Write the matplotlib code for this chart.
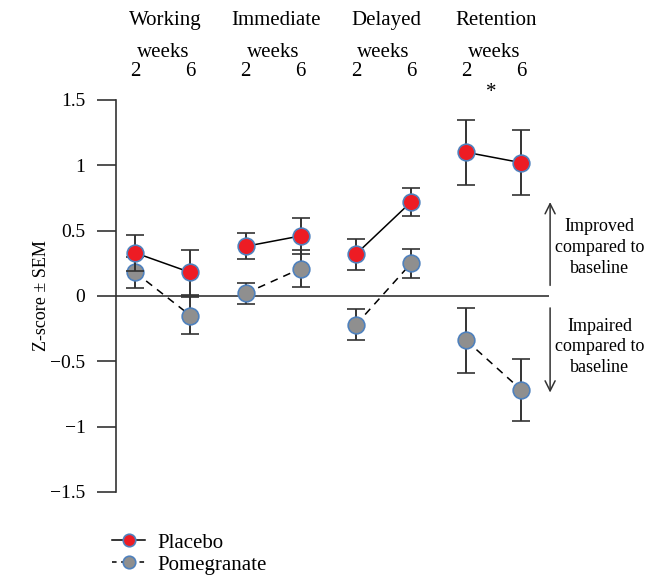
import matplotlib
matplotlib.use('Agg')
import matplotlib.pyplot as plt
from matplotlib.lines import Line2D

plt.rcParams['font.family'] = ['Liberation Serif', 'DejaVu Serif']

# data
groups = ['Working', 'Immediate', 'Delayed', 'Retention']
week_labels = ['2', '6']
placebo = [0.33, 0.18, 0.38, 0.46, 0.32, 0.72, 1.10, 1.02]
placebo_sem = [0.14, 0.17, 0.10, 0.14, 0.12, 0.11, 0.25, 0.25]
pomegranate = [0.18, -0.15, 0.02, 0.21, -0.22, 0.25, -0.34, -0.72]
pomegranate_sem = [0.12, 0.14, 0.08, 0.14, 0.12, 0.11, 0.25, 0.24]
y_ticks = [1.5, 1, 0.5, 0, -0.5, -1, -1.5]
y_tick_labels = ['1.5', '1', '0.5', '0', '\u22120.5', '\u22121', '\u22121.5']

RED = '#ED1C24'
GREY = '#8F8F8F'
EDGE = '#4F81BD'
INK = '#333333'
FS = 15

fig = plt.figure(figsize=(6.59, 5.75), dpi=100)
ax = fig.add_axes([116/659, 83/575, 433/659, 392/575])

for g in range(len(groups)):
    xs = [2*g, 2*g + 1]
    sl = slice(2*g, 2*g + 2)
    ax.errorbar(xs, pomegranate[sl], yerr=pomegranate_sem[sl], color='black', ls=(0, (5, 4)),
                lw=1.1, ecolor=INK, elinewidth=1.4, capsize=6.5, capthick=1.4,
                marker='o', ms=12, mfc=GREY, mec=EDGE, mew=1.2, zorder=3)
    ax.errorbar(xs, placebo[sl], yerr=placebo_sem[sl], color='black', ls='-',
                lw=1.1, ecolor=INK, elinewidth=1.4, capsize=6.5, capthick=1.4,
                marker='o', ms=12, mfc=RED, mec=EDGE, mew=1.2, zorder=4)

    mid = 2*g + 0.5
    ax.text(mid + 0.05, 2.11, groups[g], ha='center', va='center', fontsize=FS, clip_on=False)
    ax.text(mid, 1.86, 'weeks', ha='center', va='center', fontsize=FS, clip_on=False)
    for k in range(2):
        ax.text(xs[k], 1.715, week_labels[k], ha='center', va='center', fontsize=FS, clip_on=False)

ax.text(6.45, 1.56, '*', ha='center', va='center', fontsize=FS, clip_on=False)

ax.axhline(0, color=INK, lw=1.2, zorder=1)

ax.set_xlim(-0.35, 7.5)
ax.set_ylim(-1.5, 1.5)
ax.set_xticks([])
ax.set_yticks(y_ticks)
ax.set_yticklabels(y_tick_labels, fontsize=14)
ax.tick_params(axis='y', length=14, width=1.2, color=INK, pad=8)
for s in ['top', 'right', 'bottom']:
    ax.spines[s].set_visible(False)
ax.spines['left'].set_color(INK)
ax.spines['left'].set_linewidth(1.2)

# improved / impaired arrows
ax.annotate('', xy=(7.52, 0.74), xytext=(7.52, 0.06), annotation_clip=False,
            arrowprops=dict(arrowstyle='->', color=INK, lw=1.1, mutation_scale=18))
ax.annotate('', xy=(7.52, -0.76), xytext=(7.52, -0.07), annotation_clip=False,
            arrowprops=dict(arrowstyle='->', color=INK, lw=1.1, mutation_scale=18))
ax.text(8.42, 0.37, 'Improved\ncompared to\nbaseline', ha='center', va='center',
        fontsize=13, linespacing=1.3, clip_on=False)
ax.text(8.42, -0.39, 'Impaired\ncompared to\nbaseline', ha='center', va='center',
        fontsize=13, linespacing=1.3, clip_on=False)

fig.text(42/659, 1 - 296/575, 'Z-score \u00b1 SEM', rotation=90, ha='center', va='center', fontsize=13)

handles = [
    Line2D([], [], color='black', ls='-', lw=1.1, marker='o', ms=9, mfc=RED, mec=EDGE, mew=1.2),
    Line2D([], [], color='black', ls=(0, (3, 3)), lw=1.1, marker='o', ms=9, mfc=GREY, mec=EDGE, mew=1.2),
]
fig.legend(handles, ['Placebo', 'Pomegranate'], loc='upper left', bbox_to_anchor=(112/659, 1 - 533/575),
           frameon=False, fontsize=FS, handlelength=1.6, handletextpad=0.6, labelspacing=0.12,
           borderpad=0, borderaxespad=0)

fig.savefig('out.png', dpi=100)
